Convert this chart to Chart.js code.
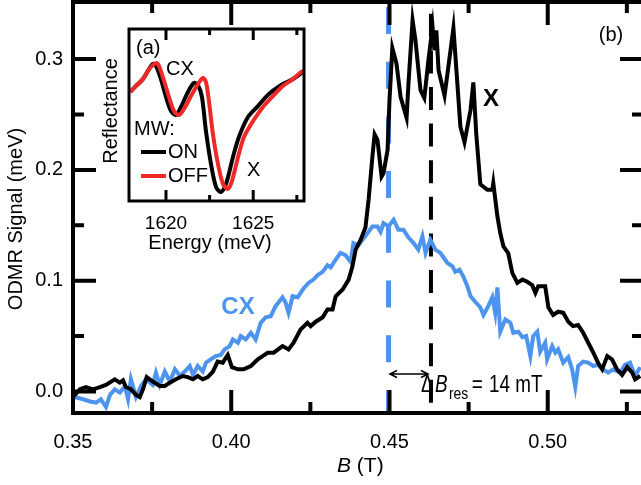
<!DOCTYPE html>
<html>
<head>
<meta charset="utf-8">
<script src="https://cdn.jsdelivr.net/npm/chart.js@4.4.0/dist/chart.umd.min.js"></script>
<style>
html, body { margin: 0; padding: 0; overflow: hidden; background: #fff; }
#wrap { position: relative; width: 641px; height: 485px; overflow: hidden; }
#main { position: absolute; left: 0; top: 0; }
#inset { position: absolute; left: 95px; top: 20px; }
</style>
</head>
<body>
<div id="wrap">
<canvas id="main" width="644" height="485"></canvas>
<canvas id="inset" width="215" height="240"></canvas>
</div>
<script>
// ---- main panel (b): ODMR signal vs B ----
var blackB = [
  0.3500,0.3506,0.3522,0.3541,0.3563,0.3585,0.3604,0.3632,0.3648,0.3658,
  0.3667,0.3683,0.3699,0.3711,0.3721,0.3733,0.3752,0.3774,0.3790,0.3806,
  0.3825,0.3847,0.3863,0.3879,0.3894,0.3910,0.3926,0.3942,0.3957,0.3973,
  0.3989,0.4002,0.4021,0.4039,0.4062,0.4084,0.4099,0.4115,0.4134,0.4162,
  0.4181,0.4197,0.4219,0.4241,0.4251,0.4267,0.4289,0.4304,0.4320,0.4330,
  0.4352,0.4371,0.4383,0.4393,0.4409,0.4424,0.4434,0.4446,0.4453,0.4462,
  0.4475,0.4481,0.4494,0.4500,0.4509,0.4522,0.4535,0.4554,0.4560,0.4573,
  0.4582,0.4598,0.4610,0.4623,0.4636,0.4642,0.4648,0.4655,0.4674,0.4686,
  0.4702,0.4708,0.4724,0.4737,0.4756,0.4765,0.4774,0.4787,0.4809,0.4825,
  0.4828,0.4841,0.4850,0.4860,0.4875,0.4888,0.4904,0.4920,0.4935,0.4951,
  0.4961,0.4970,0.4992,0.5002,0.5017,0.5033,0.5049,0.5065,0.5080,0.5096,
  0.5112,0.5128,0.5144,0.5159,0.5172,0.5188,0.5203,0.5219,0.5235,0.5251,
  0.5267,0.5276,0.5292];
var blackSig = [
  -0.001,-0.003,0.002,0.004,0.002,0.004,0.006,0.011,0.008,0.010,
  0.004,0.002,-0.003,-0.005,0.002,0.013,0.009,0.005,0.005,0.008,
  0.011,0.014,0.013,0.011,0.014,0.011,0.013,0.018,0.027,0.026,
  0.033,0.022,0.020,0.020,0.023,0.029,0.032,0.035,0.035,0.041,
  0.038,0.044,0.056,0.062,0.059,0.063,0.067,0.074,0.074,0.086,
  0.092,0.101,0.113,0.128,0.137,0.148,0.173,0.212,0.232,0.227,
  0.194,0.197,0.218,0.263,0.310,0.296,0.266,0.247,0.278,0.335,
  0.317,0.272,0.265,0.299,0.329,0.308,0.326,0.290,0.267,0.293,
  0.328,0.304,0.239,0.225,0.254,0.279,0.233,0.187,0.182,0.182,
  0.188,0.158,0.143,0.131,0.125,0.107,0.098,0.101,0.099,0.096,
  0.089,0.095,0.095,0.076,0.069,0.072,0.071,0.063,0.059,0.060,
  0.053,0.044,0.035,0.026,0.020,0.032,0.029,0.020,0.015,0.022,
  0.017,0.011,0.014];

var blueB = [
  0.3500,0.3506,0.3532,0.3554,0.3573,0.3588,0.3604,0.3617,0.3632,0.3648,
  0.3664,0.3674,0.3683,0.3699,0.3715,0.3730,0.3752,0.3762,0.3774,0.3790,
  0.3806,0.3822,0.3838,0.3853,0.3869,0.3879,0.3894,0.3910,0.3920,0.3935,
  0.3951,0.3967,0.3979,0.3995,0.4005,0.4021,0.4030,0.4046,0.4062,0.4077,
  0.4093,0.4109,0.4125,0.4140,0.4162,0.4172,0.4181,0.4194,0.4210,0.4226,
  0.4244,0.4260,0.4273,0.4289,0.4304,0.4314,0.4330,0.4345,0.4361,0.4377,
  0.4386,0.4402,0.4415,0.4431,0.4446,0.4462,0.4472,0.4481,0.4497,0.4513,
  0.4528,0.4544,0.4560,0.4576,0.4591,0.4604,0.4614,0.4629,0.4645,0.4661,
  0.4683,0.4699,0.4708,0.4721,0.4733,0.4746,0.4756,0.4771,0.4787,0.4797,
  0.4812,0.4825,0.4834,0.4841,0.4850,0.4866,0.4882,0.4891,0.4907,0.4920,
  0.4932,0.4945,0.4954,0.4967,0.4976,0.4992,0.4998,0.5014,0.5024,0.5033,
  0.5049,0.5065,0.5077,0.5087,0.5096,0.5112,0.5128,0.5144,0.5159,0.5175,
  0.5191,0.5207,0.5229,0.5244,0.5260,0.5276,0.5292];
var blueSig = [
  -0.004,-0.005,-0.007,-0.009,-0.010,-0.007,-0.014,-0.003,0.002,-0.001,
  0.005,-0.007,0.011,-0.005,0.005,0.011,0.006,0.017,0.006,0.018,
  0.009,0.020,0.014,0.018,0.023,0.015,0.023,0.018,0.026,0.029,
  0.032,0.033,0.038,0.041,0.047,0.044,0.050,0.047,0.053,0.047,
  0.062,0.067,0.068,0.077,0.085,0.080,0.071,0.086,0.085,0.092,
  0.098,0.101,0.105,0.108,0.114,0.112,0.119,0.125,0.123,0.117,
  0.134,0.132,0.137,0.143,0.149,0.149,0.144,0.152,0.149,0.155,
  0.146,0.146,0.139,0.134,0.128,0.140,0.125,0.137,0.128,0.125,
  0.116,0.113,0.108,0.110,0.104,0.095,0.086,0.081,0.076,0.069,
  0.077,0.085,0.071,0.094,0.054,0.065,0.062,0.053,0.054,0.049,
  0.050,0.032,0.050,0.054,0.036,0.044,0.029,0.041,0.035,0.038,
  0.026,0.031,0.020,0.004,0.023,0.027,0.026,0.023,0.024,0.020,
  0.017,0.020,0.017,0.024,0.026,0.014,0.022];

var resCX = 0.4497;   // blue dashed line
var resX = 0.4631;    // black dashed line
var bRange = [0.35, 0.5301];
var sigRange = [-0.0194, 0.3515];
var xTicks = [0.35, 0.40, 0.45, 0.50];
var xTickLabels = ['0.35', '0.40', '0.45', '0.50'];
var xMinor = [0.375, 0.425, 0.475, 0.525];
var yTicks = [0.0, 0.1, 0.2, 0.3];
var yTickLabels = ['0.0', '0.1', '0.2', '0.3'];
var yMinor = [0.05, 0.15, 0.25];

// ---- inset (a): reflectance vs energy ----
var energyOff = [1617.94,1618.28,1618.68,1619.03,1619.43,1619.60,1619.89,1620.17,1620.46,1620.74,
  1621.03,1621.43,1621.83,1622.12,1622.29,1622.46,1622.69,1622.98,1623.27,1623.55,
  1623.78,1624.13,1624.47,1624.99,1625.56,1626.13,1626.70,1627.28,1627.74,1627.91];
var reflOff = [0.634,0.669,0.709,0.767,0.802,0.785,0.698,0.605,0.523,0.500,
  0.535,0.610,0.680,0.715,0.692,0.581,0.390,0.215,0.099,0.070,
  0.116,0.256,0.372,0.465,0.547,0.610,0.669,0.709,0.750,0.756];
var energyOn = [1617.94,1618.28,1618.68,1619.03,1619.26,1619.43,1619.71,1620.00,1620.29,1620.57,
  1620.86,1621.26,1621.60,1621.83,1622.06,1622.29,1622.58,1622.87,1623.15,1623.44,
  1623.84,1624.18,1624.70,1625.27,1625.90,1626.70,1627.28,1627.91];
var reflOn = [0.634,0.669,0.709,0.767,0.797,0.785,0.709,0.605,0.523,0.500,
  0.547,0.634,0.686,0.674,0.605,0.407,0.215,0.081,0.052,0.099,
  0.256,0.372,0.488,0.552,0.622,0.680,0.709,0.756];
var eRange = [1617.88, 1627.91];
var insetTicks = [1620, 1625];
var insetTickLabels = ['1620', '1625'];
var insetMinor = [1622.5, 1627.5];

var BLUE = '#4d94ee';
var RED = '#f02828';
var FAM = "'Liberation Sans', Arial, Helvetica, sans-serif";

function pts(xs, ys) {
  return xs.map(function (v, i) { return { x: v, y: ys[i] }; });
}
function noPad(s) {
  s.paddingLeft = 0; s.paddingRight = 0; s.paddingTop = 0; s.paddingBottom = 0;
}

// frame with inward ticks, main panel
const mainFrame = {
  id: 'mainFrame',
  afterDatasetsDraw(chart) {
    const ctx = chart.ctx, a = chart.chartArea;
    const sx = chart.scales.x, sy = chart.scales.y;
    ctx.save();
    ctx.strokeStyle = '#000';
    ctx.lineWidth = 4;
    ctx.strokeRect(a.left, a.top, a.right - a.left, a.bottom - a.top);
    ctx.beginPath();
    function xt(v, len) {
      const p = sx.getPixelForValue(v);
      ctx.moveTo(p, a.bottom); ctx.lineTo(p, a.bottom - len);
      ctx.moveTo(p, a.top); ctx.lineTo(p, a.top + len);
    }
    function yt(v, len) {
      const p = sy.getPixelForValue(v);
      ctx.moveTo(a.left, p); ctx.lineTo(a.left + len, p);
      ctx.moveTo(a.right, p); ctx.lineTo(a.right - len, p);
    }
    xTicks.forEach(function (v) { xt(v, 23); });
    xMinor.forEach(function (v) { xt(v, 11); });
    yTicks.forEach(function (v) { yt(v, 23); });
    yMinor.forEach(function (v) { yt(v, 11); });
    ctx.stroke();
    ctx.restore();
  },
  afterDraw(chart) {
    const ctx = chart.ctx;
    ctx.save();
    ctx.fillStyle = '#000';
    ctx.textBaseline = 'middle';
    ctx.textAlign = 'center';
    ctx.font = 'bold 24px ' + FAM;
    ctx.fillText('X', 491, 99);
    ctx.fillStyle = BLUE;
    ctx.fillText('CX', 238, 307);
    ctx.fillStyle = '#000';
    ctx.font = '20px ' + FAM;
    ctx.fillText('(b)', 611, 35);

    // y title
    ctx.save();
    ctx.translate(16.5, 219);
    ctx.rotate(-Math.PI / 2);
    ctx.fillText('ODMR Signal (meV)', 0, 0);
    ctx.restore();

    // x title
    ctx.textAlign = 'left';
    ctx.textBaseline = 'alphabetic';
    ctx.font = 'italic 21px ' + FAM;
    ctx.fillText('B', 337, 472);
    const bw = ctx.measureText('B').width;
    ctx.font = '21px ' + FAM;
    ctx.fillText(' (T)', 337 + bw, 472);

    // delta B annotation (narrow setting)
    ctx.save();
    ctx.translate(421, 392);
    ctx.scale(0.82, 1);
    ctx.font = '23px ' + FAM;
    ctx.fillText('\u0394', 0, 0);
    ctx.font = 'italic 23px ' + FAM;
    ctx.fillText('B', 17, 0);
    ctx.font = '17px ' + FAM;
    ctx.fillText('res', 34, 7);
    ctx.font = '23px ' + FAM;
    ctx.fillText('=', 62, 0);
    ctx.fillText('14', 83, 0);
    ctx.fillText('mT', 115, 0);
    ctx.restore();

    // double arrow
    ctx.strokeStyle = '#000';
    ctx.lineWidth = 1.6;
    ctx.beginPath();
    ctx.moveTo(390, 374); ctx.lineTo(428, 374);
    ctx.moveTo(397, 370.5); ctx.lineTo(390, 374); ctx.lineTo(397, 377.5);
    ctx.moveTo(421, 370.5); ctx.lineTo(428, 374); ctx.lineTo(421, 377.5);
    ctx.stroke();
    ctx.restore();
  }
};

new Chart(document.getElementById('main'), {
  type: 'line',
  data: {
    datasets: [
      { data: pts(blackB, blackSig), borderColor: '#000', borderWidth: 4, pointRadius: 0, tension: 0 },
      { data: pts(blueB, blueSig), borderColor: BLUE, borderWidth: 4, pointRadius: 0, tension: 0 },
      { data: [{ x: resX, y: sigRange[1] }, { x: resX, y: sigRange[0] }], borderColor: '#000', borderWidth: 4,
        borderDash: [23, 13.6], borderDashOffset: 24.8, pointRadius: 0 },
      { data: [{ x: resCX, y: sigRange[1] }, { x: resCX, y: sigRange[0] }], borderColor: BLUE, borderWidth: 5,
        borderDash: [27, 27.7], borderDashOffset: 49.7, pointRadius: 0 }
    ]
  },
  options: {
    responsive: false,
    animation: false,
    layout: { padding: { top: 2, right: 1, left: 0, bottom: 0 } },
    plugins: { legend: { display: false }, tooltip: { enabled: false } },
    scales: {
      x: {
        type: 'linear', min: bRange[0], max: bRange[1],
        grid: { display: false, drawTicks: false }, border: { display: false },
        afterBuildTicks: function (s) { s.ticks = xTicks.map(function (v) { return { value: v }; }); },
        afterFit: function (s) { s.height = 72; noPad(s); },
        ticks: { autoSkip: false, maxRotation: 0, padding: 17.5, color: '#000', font: { family: FAM, size: 20 },
          callback: function (v) { return xTickLabels[xTicks.indexOf(v)]; } }
      },
      y: {
        type: 'linear', min: sigRange[0], max: sigRange[1],
        grid: { display: false, drawTicks: false }, border: { display: false },
        afterBuildTicks: function (s) { s.ticks = yTicks.map(function (v) { return { value: v }; }); },
        afterFit: function (s) { s.width = 73; noPad(s); },
        ticks: { autoSkip: false, padding: 10, color: '#000', font: { family: FAM, size: 20 },
          callback: function (v) { return yTickLabels[yTicks.indexOf(v)]; } }
      }
    }
  },
  plugins: [mainFrame]
});

// inset frame, ticks and labels
const insetDeco = {
  id: 'insetDeco',
  beforeDatasetsDraw(chart) {
    const ctx = chart.ctx, a = chart.chartArea;
    ctx.save();
    ctx.fillStyle = '#fff';
    ctx.fillRect(a.left, a.top, a.right - a.left, a.bottom - a.top);
    ctx.restore();
  },
  afterDatasetsDraw(chart) {
    const ctx = chart.ctx, a = chart.chartArea, sx = chart.scales.x;
    ctx.save();
    ctx.strokeStyle = '#000';
    ctx.lineWidth = 3;
    ctx.strokeRect(a.left, a.top, a.right - a.left, a.bottom - a.top);
    ctx.beginPath();
    function xt(v, len) {
      const p = sx.getPixelForValue(v);
      ctx.moveTo(p, a.bottom); ctx.lineTo(p, a.bottom - len);
      ctx.moveTo(p, a.top); ctx.lineTo(p, a.top + len);
    }
    insetTicks.forEach(function (v) { xt(v, 11); });
    insetMinor.forEach(function (v) { xt(v, 6); });
    ctx.stroke();

    ctx.fillStyle = '#000';
    ctx.font = '20px ' + FAM;
    ctx.textBaseline = 'middle';
    ctx.textAlign = 'left';
    ctx.fillText('(a)', 41, 28);
    ctx.fillText('CX', 71, 49);
    ctx.fillText('MW:', 39, 109);
    ctx.fillText('ON', 73, 132);
    ctx.fillText('OFF', 73, 156);
    ctx.fillText('X', 152, 150);

    ctx.lineWidth = 4;
    ctx.strokeStyle = '#000';
    ctx.beginPath(); ctx.moveTo(46, 132); ctx.lineTo(71, 132); ctx.stroke();
    ctx.strokeStyle = RED;
    ctx.beginPath(); ctx.moveTo(46, 156); ctx.lineTo(71, 156); ctx.stroke();

    ctx.textAlign = 'center';
    ctx.fillText('Energy (meV)', 115, 223);
    ctx.translate(16, 91);
    ctx.rotate(-Math.PI / 2);
    ctx.fillText('Reflectance', 0, 0);
    ctx.restore();
  }
};

new Chart(document.getElementById('inset'), {
  type: 'line',
  data: {
    datasets: [
      { data: pts(energyOff, reflOff), borderColor: RED, borderWidth: 4, pointRadius: 0, tension: 0.3 },
      { data: pts(energyOn, reflOn), borderColor: '#000', borderWidth: 4, pointRadius: 0, tension: 0.3 }
    ]
  },
  options: {
    responsive: false,
    animation: false,
    layout: { padding: { top: 9, right: 6, left: 34, bottom: 0 } },
    plugins: { legend: { display: false }, tooltip: { enabled: false } },
    scales: {
      x: {
        type: 'linear', min: eRange[0], max: eRange[1],
        grid: { display: false, drawTicks: false }, border: { display: false },
        afterBuildTicks: function (s) { s.ticks = insetTicks.map(function (v) { return { value: v }; }); },
        afterFit: function (s) { s.height = 59; noPad(s); },
        ticks: { autoSkip: false, maxRotation: 0, padding: 11.6, color: '#000', font: { family: FAM, size: 19 },
          callback: function (v) { return insetTickLabels[insetTicks.indexOf(v)]; } }
      },
      y: { type: 'linear', min: 0, max: 1, display: false }
    }
  },
  plugins: [insetDeco]
});
</script>
</body>
</html>
